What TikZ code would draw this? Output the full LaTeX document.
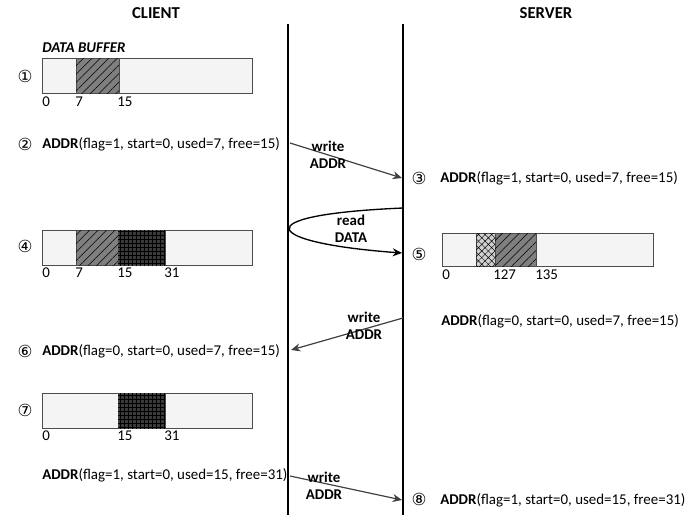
\documentclass[tikz,border=0pt]{standalone}
\usepackage{fontspec}
\setmainfont{Carlito}
\newfontfamily\dejavu{DejaVu Sans}
\usetikzlibrary{patterns.meta,arrows.meta}
\definecolor{buf}{HTML}{F4F4F4}
\definecolor{hatchfill}{HTML}{7F7F7F}
\definecolor{gridfill}{HTML}{3A3A3A}
\definecolor{xfill}{HTML}{D0D0D0}
\definecolor{arr}{HTML}{404040}
\begin{document}
\begin{tikzpicture}[x=0.75pt,y=-0.75pt,
  every node/.style={font=\fontsize{11.2}{13}\selectfont, inner sep=0pt},
  title/.style={font=\fontsize{12.5}{14}\selectfont\bfseries},
  num/.style={font=\dejavu\fontsize{12.5}{14}\selectfont},
  addr/.style={anchor=west},
  tick/.style={anchor=north west, inner sep=0pt},
  bufbox/.style={draw=black!70, fill=buf, line width=0.6pt},
  hatch/.style={fill=hatchfill, postaction={pattern={Lines[angle=45,distance=4.5pt,line width=0.4pt]}}, draw=black!70, line width=0.4pt},
  gridd/.style={fill=gridfill, postaction={pattern={Hatch[angle=0,distance=3pt,line width=0.35pt]}}, draw=black!70, line width=0.4pt},
  xhatch/.style={fill=xfill, postaction={pattern={Hatch[angle=45,distance=3.5pt,line width=0.35pt]}}, draw=black!70, line width=0.4pt},
  lifeline/.style={line width=1pt},
  msg/.style={draw=arr, line width=0.9pt, -{Stealth[length=7pt,width=6pt]}},
  rd/.style={draw=black, line width=1pt, -{Stealth[length=7pt,width=6pt]}},
  lbl/.style={font=\fontsize{11.2}{12.5}\selectfont\bfseries, align=center}
]
\useasboundingbox (0,0) rectangle (688,515);
% titles
\node[title] (client) at (156,13) {CLIENT};
\node[title] (server) at (546,13) {SERVER};
% lifelines
\coordinate (ct) at (288,24); \coordinate (cb) at (288,515);
\coordinate (st) at (403,24); \coordinate (sb) at (403,515);
\draw[lifeline] (ct) -- (cb);
\draw[lifeline] (st) -- (sb);

% step 1
\node[font=\fontsize{11.2}{13}\selectfont\bfseries\itshape, anchor=west] (dbl) at (42,48) {DATA BUFFER};
\node[num] (n1) at (25,76) {①};
\draw[bufbox] (42,58) rectangle (252,93);
\draw[hatch] (76,58) rectangle (119,93);
\node[tick] (t10) at (42,97) {0};
\node[tick] (t17) at (75,97) {7};
\node[tick] (t115) at (117,97) {15};

% step 2
\node[num] (n2) at (25,144) {②};
\node[addr] (a2) at (42,144) {\textbf{ADDR}(flag=1, start=0, used=7, free=15)};
\coordinate (w1s) at (290,143);
\coordinate (w1e) at (402,178);
\draw[msg] (w1s) -- (w1e);
\node[lbl] (w1l) at (328,155) {write\\ADDR};

% step 3
\node[num] (n3) at (419,178) {③};
\node[addr] (a3) at (440,178) {\textbf{ADDR}(flag=1, start=0, used=7, free=15)};

% read data
\coordinate (r1s) at (403,208);
\coordinate (r1e) at (402,253);
\draw[rd] (r1s) .. controls (240,215) and (265,243) .. (r1e);
\node[lbl] (r1l) at (351,229) {read\\DATA};

% step 4
\node[num] (n4) at (25,246) {④};
\draw[bufbox] (42,230) rectangle (252,265);
\draw[hatch] (76,230) rectangle (118,265);
\draw[gridd] (118,230) rectangle (165,265);
\node[tick] (t40) at (42,268) {0};
\node[tick] (t47) at (75,268) {7};
\node[tick] (t415) at (117,268) {15};
\node[tick] (t431) at (164,268) {31};

% step 5
\node[num] (n5) at (419,254) {⑤};
\draw[bufbox] (442,233) rectangle (653,266);
\draw[xhatch] (476,233) rectangle (495,266);
\draw[hatch] (495,233) rectangle (536,266);
\node[tick] (t50) at (442,270) {0};
\node[tick] (t5127) at (493,270) {127};
\node[tick] (t5135) at (535,270) {135};

% write back
\node[addr] (a5) at (441,321) {\textbf{ADDR}(flag=0, start=0, used=7, free=15)};
\coordinate (w2s) at (403,318);
\coordinate (w2e) at (291,350);
\draw[msg] (w2s) -- (w2e);
\node[lbl] (w2l) at (364,326) {write\\ADDR};

% step 6
\node[num] (n6) at (25,351) {⑥};
\node[addr] (a6) at (42,351) {\textbf{ADDR}(flag=0, start=0, used=7, free=15)};

% step 7
\node[num] (n7) at (25,410) {⑦};
\draw[bufbox] (42,393) rectangle (252,428);
\draw[gridd] (118,393) rectangle (165,428);
\node[tick] (t70) at (42,431) {0};
\node[tick] (t715) at (117,431) {15};
\node[tick] (t731) at (164,431) {31};

% step 8
\node[addr] (a7) at (42,475) {\textbf{ADDR}(flag=1, start=0, used=15, free=31)};
\coordinate (w3s) at (290,476);
\coordinate (w3e) at (402,500);
\draw[msg] (w3s) -- (w3e);
\node[lbl] (w3l) at (324,486) {write\\ADDR};
\node[num] (n8) at (419,499) {⑧};
\node[addr] (a8) at (440,500) {\textbf{ADDR}(flag=1, start=0, used=15, free=31)};
\end{tikzpicture}
\end{document}
